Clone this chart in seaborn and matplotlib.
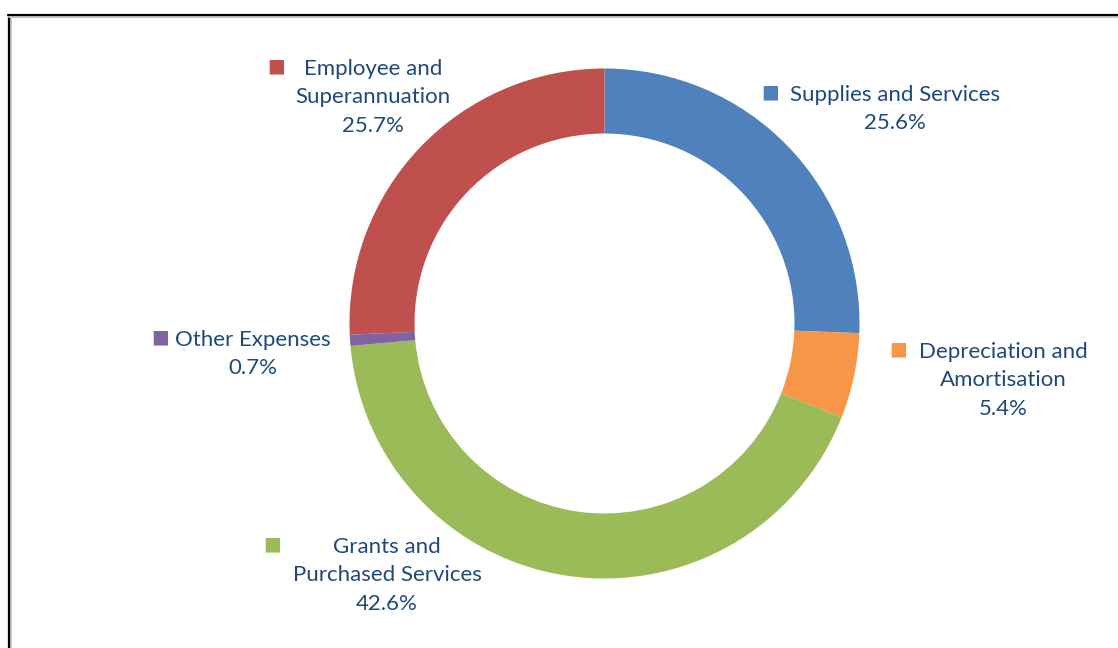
import matplotlib
matplotlib.use("Agg")
import matplotlib.pyplot as plt
from matplotlib.lines import Line2D
import seaborn as sns

sns.set_theme(style="white")
plt.rcParams['font.family'] = ['Lato', 'DejaVu Sans']

# Expense shares, clockwise from twelve o'clock
categories = ["Supplies and Services", "Depreciation and\nAmortisation",
              "Grants and\nPurchased Services", "Other Expenses",
              "Employee and\nSuperannuation"]
shares = [25.6, 5.4, 42.6, 0.7, 25.7]
colors = ["#4F81BD", "#F79646", "#9BBB59", "#8064A2", "#C0504D"]
text_color = "#1F497D"

W, H = 1118, 648
fig = plt.figure(figsize=(W / 100, H / 100), dpi=100)
fig.patch.set_facecolor("white")

# donut axes, sized in pixels
cx, cy, r = 604.5, 323.5, 255
ax = fig.add_axes([(cx - r) / W, (H - cy - r) / H, 2 * r / W, 2 * r / H])
ax.pie(shares, colors=colors, startangle=90, counterclock=False, radius=1.0,
       wedgeprops=dict(width=0.255, linewidth=0))
ax.set_xlim(-1, 1)
ax.set_ylim(-1, 1)
ax.axis("off")

# chart frame (left and top edges only show inside the image)
fig.add_artist(Line2D([9.5 / W, 9.5 / W], [0, 1 - 15 / H], color="#c8c8c8", lw=2.2, transform=fig.transFigure))
fig.add_artist(Line2D([8.5 / W, 8.5 / W], [0, 1 - 14.5 / H], color="black", lw=1.6, transform=fig.transFigure))
fig.add_artist(Line2D([8.5 / W, 1], [1 - 15.5 / H, 1 - 15.5 / H], color="#c8c8c8", lw=2.2, transform=fig.transFigure))
fig.add_artist(Line2D([8 / W, 1], [1 - 14.5 / H, 1 - 14.5 / H], color="black", lw=1.6, transform=fig.transFigure))

# data labels: (text centre x, first line y, key x)
label_pos = [(895, 95, 770), (1003, 352, 898), (387, 547, 272), (253, 340, 160), (373, 69, 276)]

for cat, val, col, (tx, ty, kx) in zip(categories, shares, colors, label_pos):
    lines = cat.split("\n") + [f"{val:.1f}%"]
    for i, ln in enumerate(lines):
        fig.text(tx / W, 1 - (ty + i * 28.3) / H, ln, ha="center", va="center",
                 fontsize=16, color=text_color)
    fig.text(kx / W, 1 - (ty - 3) / H, "\u25A0", ha="center", va="center",
             fontsize=13.5, color=col, family=["DejaVu Sans"])

fig.savefig("out.png", dpi=100, facecolor="white")
